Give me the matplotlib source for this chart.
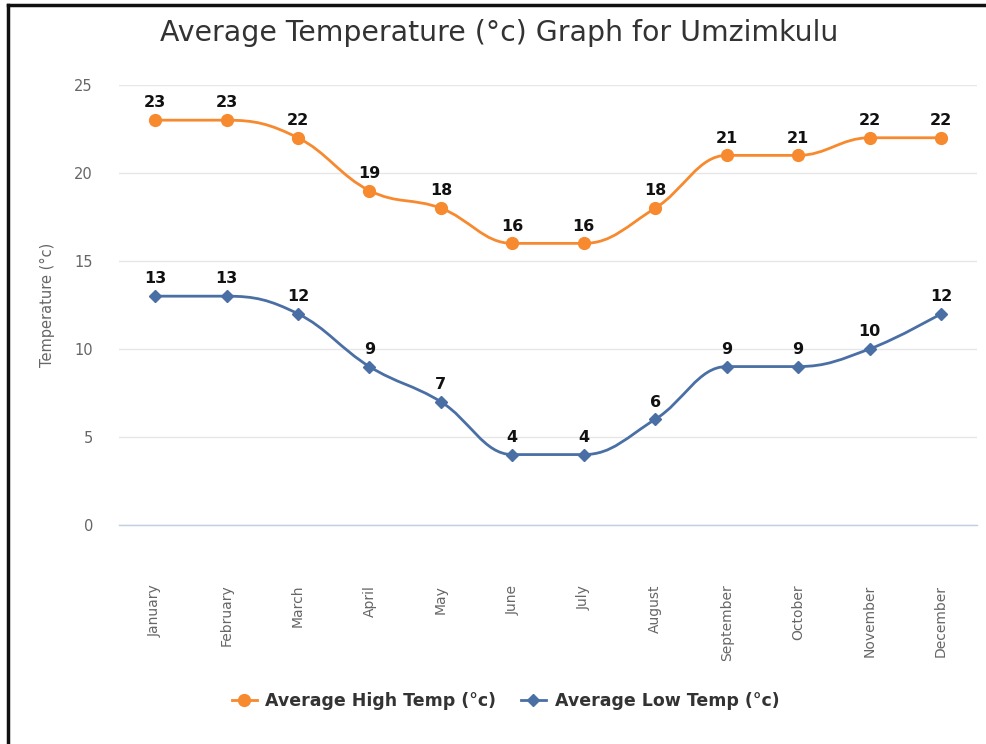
import matplotlib
matplotlib.use('Agg')
import matplotlib.pyplot as plt
from matplotlib.path import Path
from matplotlib.patches import PathPatch
from matplotlib.lines import Line2D

months = ["January", "February", "March", "April", "May", "June",
          "July", "August", "September", "October", "November", "December"]
high_temp = [23, 23, 22, 19, 18, 16, 16, 18, 21, 21, 22, 22]
low_temp = [13, 13, 12, 9, 7, 4, 4, 6, 9, 9, 10, 12]
y_ticks = [0, 5, 10, 15, 20, 25]

HIGH_COLOR = '#F7892E'
LOW_COLOR = '#4A6FA5'
GRID_COLOR = '#E6E6E6'
AXIS_COLOR = '#C0D0E0'
LABEL_COLOR = '#666666'

plt.rcParams['font.family'] = ['DejaVu Sans']


def spline_path(xs, ys, smoothing=1.5):
    # highcharts-like spline: bezier control points from neighbours
    denom = smoothing + 1
    verts = [(xs[0], ys[0])]
    codes = [Path.MOVETO]
    right_prev = (xs[0], ys[0])
    n = len(xs)
    for i in range(1, n):
        px, py = xs[i], ys[i]
        lx, ly = xs[i - 1], ys[i - 1]
        if i < n - 1:
            nx, ny = xs[i + 1], ys[i + 1]
            lcx = (smoothing * px + lx) / denom
            lcy = (smoothing * py + ly) / denom
            rcx = (smoothing * px + nx) / denom
            rcy = (smoothing * py + ny) / denom
            if rcx != lcx:
                corr = (rcy - lcy) * (rcx - px) / (rcx - lcx) + py - rcy
                lcy += corr
                rcy += corr
            if lcy > max(ly, py):
                lcy = max(ly, py)
                rcy = 2 * py - lcy
            elif lcy < min(ly, py):
                lcy = min(ly, py)
                rcy = 2 * py - lcy
            if rcy > max(py, ny):
                rcy = max(py, ny)
                lcy = 2 * py - rcy
            elif rcy < min(py, ny):
                rcy = min(py, ny)
                lcy = 2 * py - rcy
        else:
            lcx, lcy, rcx, rcy = px, py, px, py
        verts += [right_prev, (lcx, lcy), (px, py)]
        codes += [Path.CURVE4] * 3
        right_prev = (rcx, rcy)
    return Path(verts, codes)


fig = plt.figure(figsize=(9.87, 7.44), dpi=100)
ax = fig.add_axes([0.1209, 0.2944, 0.8687, 0.5914])

x = list(range(len(months)))

for vals, color, marker, msize, label in [
        (high_temp, HIGH_COLOR, 'o', 8.5, 'Average High Temp (°c)'),
        (low_temp, LOW_COLOR, 'D', 6.5, 'Average Low Temp (°c)')]:
    ax.add_patch(PathPatch(spline_path(x, vals), facecolor='none',
                           edgecolor=color, linewidth=2, zorder=3))
    ax.plot(x, vals, linestyle='none', marker=marker, markersize=msize,
            color=color, zorder=4)
    ax.plot([], [], color=color, linewidth=2, marker=marker,
            markersize=msize, label=label)
    for xi, v in zip(x, vals):
        ax.annotate(str(v), (xi, v), xytext=(0, 7), textcoords='offset points',
                    ha='center', va='bottom', fontsize=11.5, fontweight='bold',
                    color='#111111', zorder=5)

ax.set_xlim(-0.5, len(months) - 0.5)
ax.set_ylim(0, 25)
ax.set_yticks(y_ticks)
ax.set_xticks(x)
ax.set_xticklabels(months, rotation=90, ha='center', va='top')
ax.tick_params(axis='x', length=0, pad=43, labelsize=10, labelcolor=LABEL_COLOR)
ax.tick_params(axis='y', length=0, pad=19, labelsize=10.5, labelcolor=LABEL_COLOR)
ax.grid(axis='y', color=GRID_COLOR, linewidth=1)
ax.grid(axis='x', visible=False)
ax.set_axisbelow(True)
for side in ['left', 'right', 'top']:
    ax.spines[side].set_visible(False)
ax.spines['bottom'].set_color(AXIS_COLOR)
ax.spines['bottom'].set_linewidth(1)

ax.set_ylabel("Temperature (°c)", fontsize=10.5, color=LABEL_COLOR, labelpad=14)

fig.text(0.506, 0.955, "Average Temperature (°c) Graph for Umzimkulu",
         ha='center', va='center', fontsize=20.4, color='#333333')

leg = fig.legend(loc='center', bbox_to_anchor=(0.512, 0.058), ncol=2,
                 frameon=False, fontsize=12.5, handlelength=1.45,
                 columnspacing=1.4, handletextpad=0.5)
for t in leg.get_texts():
    t.set_fontweight('bold')
    t.set_color('#333333')

# frame lines along top and left edge
fig.add_artist(Line2D([8 / 987, 8 / 987], [0, 1 - 5 / 744],
                      color='#111111', linewidth=2.5))
fig.add_artist(Line2D([8 / 987, 1], [1 - 5 / 744, 1 - 5 / 744],
                      color='#111111', linewidth=2.5))

fig.savefig('out.png', dpi=100)
